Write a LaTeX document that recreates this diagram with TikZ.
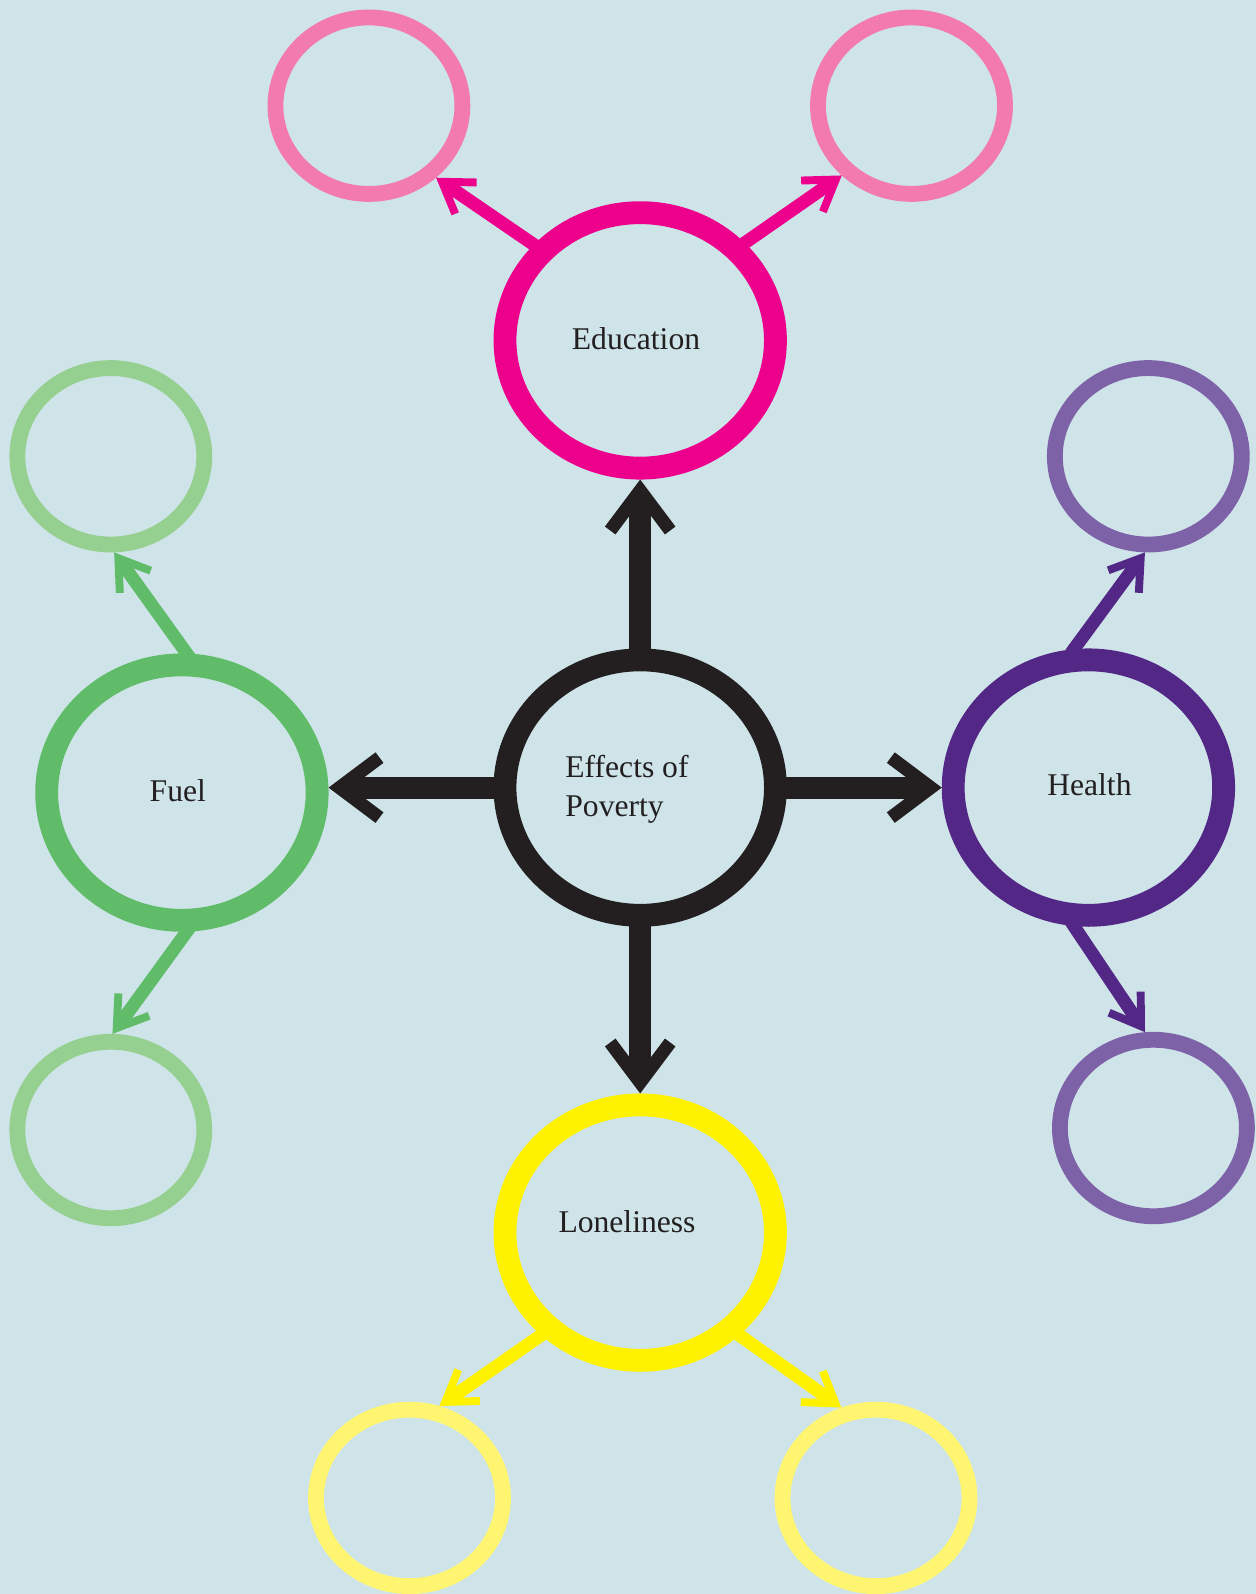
\documentclass[tikz,border=0pt]{standalone}
\usepackage{fontspec}
\setmainfont{Liberation Serif}
\usetikzlibrary{arrows.meta,shapes.geometric}

\definecolor{bgblue}{HTML}{CEE4E9}
\definecolor{ink}{HTML}{231F20}
\definecolor{pinkc}{HTML}{EC008C}
\definecolor{pinkl}{HTML}{F27AAE}
\definecolor{greenc}{HTML}{60BC69}
\definecolor{greenl}{HTML}{96D090}
\definecolor{purplec}{HTML}{522785}
\definecolor{purplel}{HTML}{7D62A8}
\definecolor{yellowc}{HTML}{FFF200}
\definecolor{yellowl}{HTML}{FFF571}

\begin{document}
\begin{tikzpicture}[x=0.02cm,y=-0.02cm,
  ring/.style={ellipse,draw,inner sep=0pt},
  hub/.style={ring,line width=13pt,minimum width=5.41cm,minimum height=5.11cm},
  leaf/.style={ring,line width=9pt,minimum width=3.74cm,minimum height=3.53cm},
  txt/.style={font=\fontsize{18}{22}\selectfont,text=ink,align=left,inner sep=0pt},
  big/.style={line width=12.5pt,shorten <=-3pt,
    -{Straight Barb[length=0.8cm,width=1.2cm,line width=7.5pt]}},
  small/.style={line width=7.4pt,shorten <=-3pt,
    -{Straight Barb[length=0.58cm,width=0.76cm,line width=4.5pt]}}]
  \useasboundingbox (0,0) rectangle (1256,1594);
  \fill[bgblue] (0,0) rectangle (1256,1594);

  % main rings
  \node[hub,draw=ink]     (hub)    at (640.2,787.6)  {};
  \node[hub,draw=pinkc]   (edu)    at (640.2,340.4)  {};
  \node[hub,draw=purplec] (health) at (1088.4,787.6) {};
  \node[hub,draw=greenc]  (fuel)   at (181.9,792.6)  {};
  \node[hub,draw=yellowc] (lone)   at (640.2,1232.6) {};

  % empty rings
  \node[leaf,draw=pinkl]   (eduL)    at (368.9,105.7)  {};
  \node[leaf,draw=pinkl]   (eduR)    at (911.5,105.7)  {};
  \node[leaf,draw=greenl]  (fuelT)   at (110.8,456.3)  {};
  \node[leaf,draw=greenl]  (fuelB)   at (110.8,1130)   {};
  \node[leaf,draw=purplel] (healthT) at (1148.3,456.3) {};
  \node[leaf,draw=purplel] (healthB) at (1153.4,1128)  {};
  \node[leaf,draw=yellowl] (loneL)   at (409.5,1497.9) {};
  \node[leaf,draw=yellowl] (loneR)   at (876,1497.9)   {};

  % texts
  \node[txt]             at (636,338.4)    {Education};
  \node[txt,anchor=west] at (565,789)      {Effects of\\Poverty};
  \node[txt]             at (1089.4,784.5) {Health};
  \node[txt]             at (177.8,790.6)  {Fuel};
  \node[txt]             at (627,1221.5)   {Loneliness};

  \path[big,ink]
  (hub.north) edge (edu.south)
  (hub.south) edge (lone.north)
  (hub.east)  edge (health.west)
  (hub.west)  edge (fuel.east |- hub.west);

  \path[small,pinkc]
  (edu.138) edge (eduL.-47)
  (edu.43)  edge (eduR.225);

  \path[small,greenc]
  (fuel.88)  edge (fuelT.272)
  (fuel.272) edge (fuelB.89);

  \path[small,purplec]
  (health.96)  edge (healthT.268)
  (health.264) edge (healthB.95);

  \path[small,yellowc]
  (lone.226) edge (loneL.72)
  (lone.314) edge (loneR.111);
\end{tikzpicture}
\end{document}
